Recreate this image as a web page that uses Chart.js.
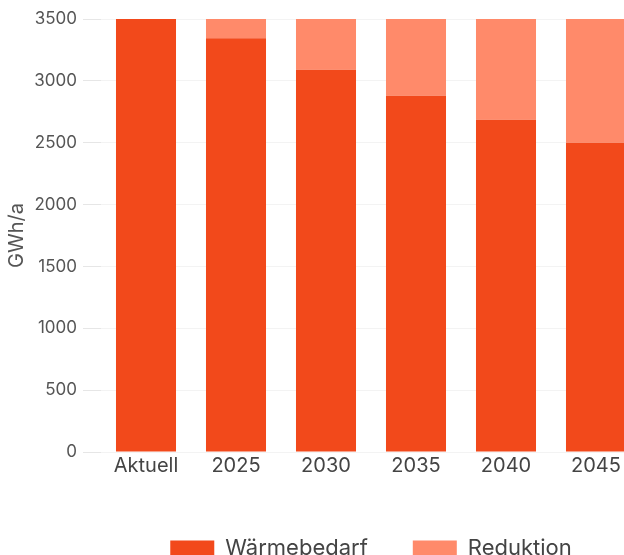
<!DOCTYPE html>
<html>
<head>
<meta charset="utf-8">
<script src="https://cdn.jsdelivr.net/npm/chart.js@4.4.0/dist/chart.umd.min.js"></script>
<style>
  html, body { margin: 0; padding: 0; background: #fff; overflow: hidden; }
  #wrap { width: 624px; height: 555px; overflow: hidden; }
</style>
</head>
<body>
<div id="wrap"><canvas id="heatChart" width="742" height="569"></canvas></div>
<script>
const categories = ["Aktuell", "2025", "2030", "2035", "2040", "2045"];
const waermebedarf = [3500, 3345, 3090, 2880, 2685, 2500];
const reduktion = [0, 155, 410, 620, 815, 1000];
const yTicks = [0, 500, 1000, 1500, 2000, 2500, 3000, 3500];

document.addEventListener("DOMContentLoaded", () => {
    const ctx = document.getElementById("heatChart").getContext("2d");
    const fontFamily = "Inter, 'Noto Sans', sans-serif";

    new Chart(ctx, {
        type: "bar",
        data: {
            labels: categories,
            datasets: [
                {
                    label: "Wärmebedarf",
                    data: waermebedarf,
                    backgroundColor: "#F2491B",
                    barPercentage: 0.667,
                    categoryPercentage: 1.0,
                },
                {
                    label: "Reduktion",
                    data: reduktion,
                    backgroundColor: "#FF8A6A",
                    barPercentage: 0.667,
                    categoryPercentage: 1.0,
                },
            ],
        },
        options: {
            responsive: false,
            animation: false,
            layout: {
                padding: { top: 19, right: 0, left: 0, bottom: 0 },
            },
            scales: {
                x: {
                    stacked: true,
                    grid: { display: false, drawTicks: false },
                    border: { display: false },
                    ticks: {
                        color: "#444",
                        padding: 2,
                        font: { family: fontFamily, size: 20 },
                    },
                    afterFit: (scale) => { scale.height = 40; },
                },
                y: {
                    stacked: true,
                    min: 0,
                    max: 3500,
                    afterBuildTicks: (scale) => {
                        scale.ticks = yTicks.map(v => ({ value: v }));
                    },
                    grid: {
                        color: "#f3f3f3",
                        tickColor: "#e6e6e6",
                        tickLength: 18,
                    },
                    border: { display: false },
                    ticks: {
                        color: "#555",
                        padding: 6,
                        font: { family: fontFamily, size: 17 },
                        callback: (v) => String(v),
                    },
                    title: {
                        display: true,
                        text: "GWh/a",
                        color: "#555",
                        padding: { top: 5, bottom: 0 },
                        font: { family: fontFamily, size: 20 },
                    },
                    afterFit: (scale) => { scale.width = 101; },
                },
                // empty axis on the right so the legend centres like the original
                yRight: {
                    position: "right",
                    display: true,
                    grid: { display: false, drawTicks: false },
                    border: { display: false },
                    ticks: { display: false },
                    afterFit: (scale) => { scale.width = 101; },
                },
            },
            plugins: {
                legend: {
                    display: true,
                    position: "bottom",
                    labels: {
                        boxWidth: 44,
                        boxHeight: 15,
                        padding: 45,
                        color: "#444",
                        font: { family: fontFamily, size: 22 },
                    },
                },
                tooltip: { enabled: false },
            },
        },
    });
});
</script>
</body>
</html>
